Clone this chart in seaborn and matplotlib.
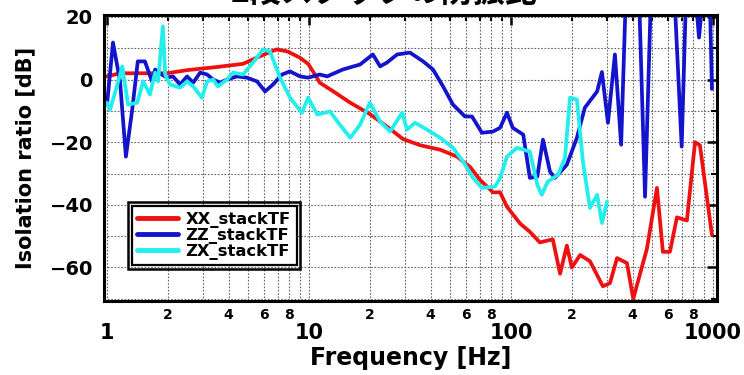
import numpy as np
import pandas as pd
import matplotlib
matplotlib.use("Agg")
import matplotlib.pyplot as plt
import seaborn as sns
from matplotlib.ticker import FixedLocator, FixedFormatter, NullFormatter
from matplotlib.patches import Rectangle
from matplotlib.lines import Line2D

# ---------------- data ----------------
xx_freq = [1.00, 1.16, 1.98, 2.49, 3.5, 4.71, 5.7, 6.9, 7.8, 9.0, 9.9, 10.7, 11.3, 13.2,
           16.0, 20.0, 24.3, 29.2, 35.6, 44.6, 54.0, 62.9, 70.1, 81.5, 88.3, 95.5, 111,
           124, 139, 161, 175, 189, 200, 220, 246, 285, 309, 335, 375, 403, 471, 528,
           565, 612, 663, 743, 815, 862, 988]
xx_db = [1, 2, 2, 3, 4, 5, 7.4, 9.6, 9, 7, 5, 1.6, -1, -3.8,
         -7.4, -11, -15, -19, -21, -22.4, -24.6, -28, -32, -36, -36, -40.6, -46,
         -48.6, -52, -51, -62, -53, -60, -56, -58, -66, -65, -57, -58.6, -70, -54, -34.6,
         -55, -55, -44, -45, -20, -21, -49.6]

zz_freq = [1.00, 1.07, 1.16, 1.24, 1.33, 1.42, 1.54, 1.67, 1.73, 1.87, 1.98, 2.12, 2.30,
           2.49, 2.67, 2.89, 3.13, 3.35, 3.63, 3.93, 4.40, 4.93, 5.53, 6.06, 6.63, 7.35,
           8.05, 9.02, 9.89, 11.3, 12.3, 14.7, 17.9, 20.7, 22.5, 24.3, 27.3, 31.6, 36.7,
           41.1, 46.1, 51.6, 59.2, 64.1, 71.8, 81.5, 88.3, 95.5, 102, 115, 124, 135, 144,
           156, 165, 189, 212, 232, 267, 282, 302, 327, 351, 370, 430, 461, 493, 641,
           700, 735, 824, 853, 892, 966, 988]
zz_db = [-8, 11.8, -0.6, -24.6, -10, 5.8, 5.8, -0.6, 3.2, 1.6, 0.6, 1, -1.6,
         1, -1, 2.2, 1.6, 0, -1, 0, 1, 0.6, -0.6, -3.8, -1.6, 1.6,
         2.6, 1, 0.6, 1.6, 1, 3.2, 4.8, 8, 4.2, 5.4, 8, 8.6, 5.8,
         3.2, -2.2, -8, -11.8, -11.8, -17, -16.6, -15.4, -10.6, -15.4, -17.6, -31.4, -31, -19.2,
         -29.4, -31.4, -27.2, -18.6, -9, -3.8, 2.4, -13.8, 8, -20.8, 26, 28, -37.4, 27, 30,
         -21.4, 26, 25, 13.4, 27, 25, -3]

zx_freq = [1.00, 1.035, 1.10, 1.19, 1.27, 1.41, 1.51, 1.63, 1.73, 1.79, 1.89, 1.94, 2.05,
           2.30, 2.49, 2.67, 2.95, 3.13, 3.35, 3.54, 3.93, 4.20, 4.71, 5.28, 5.92, 6.41,
           7.18, 8.05, 9.23, 9.89, 11.0, 12.7, 14.2, 16.0, 17.9, 20.0, 22.5, 25.2, 28.9,
           30.6, 33.5, 38.4, 44.6, 51.6, 57.9, 64.9, 71.8, 83.3, 88.3, 95.5, 107, 124, 135,
           142, 152, 171, 185, 196, 212, 227, 246, 267, 282, 299]
zx_db = [-7.4, -9.6, -3.8, 4.2, -8, -7.4, -0.6, -4.8, 2.2, -0.6, 17, 1.6, -1.6,
         -2.6, -0.6, -2.2, -5.8, -0.6, 0, -2.2, 0, 2.2, 1.6, 5.4, 9.6, 9,
         0.6, -5.8, -10.6, -5.8, -11.2, -10.2, -14.4, -18.6, -14.4, -7.4, -13.4, -16.6, -10.6,
         -16, -13.8, -16, -18.6, -21.8, -26.2, -31.4, -34.6, -34.2, -31.4, -24.6, -21.8, -23, -33.6,
         -36.8, -32.6, -30.4, -25, -5.8, -6.4, -26.2, -41, -36.8, -45.8, -39]

series_names = ["XX_stackTF", "ZZ_stackTF", "ZX_stackTF"]
series_colors = ["#ee1111", "#1414cc", "#22eeee"]

x_major = [1, 10, 100, 1000]
x_major_labels = ["1", "10", "100", "1000"]
x_minor = [m * d for d in (1, 10, 100) for m in range(2, 10)]
x_minor_labels = [str(m) if m in (2, 4, 6, 8) else "" for d in (1, 10, 100) for m in range(2, 10)]
y_major = [-60, -40, -20, 0, 20]
y_minor = [-70, -50, -30, -10, 10]

title_text = "2段スタックの防振比"
xlabel_text = "Frequency [Hz]"
ylabel_text = "Isolation ratio [dB]"

# ---------------- build figure ----------------
sns.set_style("white")
plt.rcParams["font.family"] = ["DejaVu Sans"]
plt.rcParams["font.weight"] = "bold"
plt.rcParams["text.color"] = "black"
plt.rcParams["axes.labelcolor"] = "black"
plt.rcParams["xtick.color"] = "black"
plt.rcParams["ytick.color"] = "black"

frames = []
for name, f, d in [(series_names[0], xx_freq, xx_db),
                   (series_names[1], zz_freq, zz_db),
                   (series_names[2], zx_freq, zx_db)]:
    frames.append(pd.DataFrame({"freq": f, "db": d, "series": name}))
df = pd.concat(frames, ignore_index=True)

fig = plt.figure(figsize=(7.44, 3.75), dpi=100)
ax = fig.add_axes([104 / 744, 1 - 301 / 375, 613 / 744, 286 / 375])

sns.lineplot(data=df, x="freq", y="db", hue="series", hue_order=series_names,
             palette=series_colors, estimator=None, sort=False, linewidth=2.7,
             ax=ax, legend=False)

ax.set_xscale("log")
ax.set_xlim(0.966, 1047)
ax.set_ylim(-70.7, 20.6)

ax.xaxis.set_major_locator(FixedLocator(x_major))
ax.xaxis.set_major_formatter(FixedFormatter(x_major_labels))
ax.xaxis.set_minor_locator(FixedLocator(x_minor))
ax.xaxis.set_minor_formatter(FixedFormatter(x_minor_labels))
ax.yaxis.set_major_locator(FixedLocator(y_major))
ax.yaxis.set_minor_locator(FixedLocator(y_minor))
ax.yaxis.set_minor_formatter(NullFormatter())

ax.tick_params(axis="both", which="both", direction="in", top=True, right=True,
               color="black", labelcolor="black")
ax.tick_params(axis="both", which="major", length=7, width=1.8)
ax.tick_params(axis="both", which="minor", length=4.5, width=1.5)
ax.tick_params(axis="x", which="major", labelsize=15, pad=16)
ax.tick_params(axis="x", which="minor", labelsize=10, pad=5)
ax.tick_params(axis="y", which="major", labelsize=14, pad=8)
for lab in ax.get_xticklabels(which="both") + ax.get_yticklabels():
    lab.set_fontweight("bold")

ax.grid(True, which="both", axis="both", color="#666666", linestyle=(0, (1.5, 1.5)), linewidth=0.8)
ax.set_axisbelow(True)

for sp in ax.spines.values():
    sp.set_visible(True)
    sp.set_linewidth(2.2)
    sp.set_color("black")

ax.set_xlabel(xlabel_text, fontsize=17, fontweight="bold", labelpad=2, color="black")
ax.set_ylabel(ylabel_text, fontsize=15, fontweight="bold", labelpad=10, color="black")

handles = [Line2D([], [], color=c, linewidth=3.5) for c in series_colors]
leg = ax.legend(handles, series_names, loc="lower left", bbox_to_anchor=(0.045, 0.125),
                borderaxespad=0, frameon=True, fancybox=False,
                handlelength=2.5, handletextpad=0.45, labelspacing=0.0,
                borderpad=0.35, prop={"weight": "bold", "size": 11.8})
leg.get_frame().set_edgecolor("black")
leg.get_frame().set_linewidth(1.6)
leg.get_frame().set_facecolor("white")
leg.get_frame().set_alpha(1)
for t in leg.get_texts():
    t.set_color("black")

fig.text(0.517, 1 - 9 / 375, title_text, ha="center", va="bottom", fontsize=23,
         fontweight="bold", color="black", family=["Noto Sans CJK JP", "DejaVu Sans"])

# outer line of the double legend border
fig.canvas.draw()
bb = leg.get_frame().get_window_extent().transformed(fig.transFigure.inverted())
padx, pady = 3.5 / 744, 3.5 / 375
fig.patches.append(Rectangle((bb.x0 - padx, bb.y0 - pady), bb.width + 2 * padx,
                             bb.height + 2 * pady, transform=fig.transFigure,
                             fill=False, edgecolor="black", linewidth=1.8, zorder=10))

fig.savefig("out.png", dpi=100)
